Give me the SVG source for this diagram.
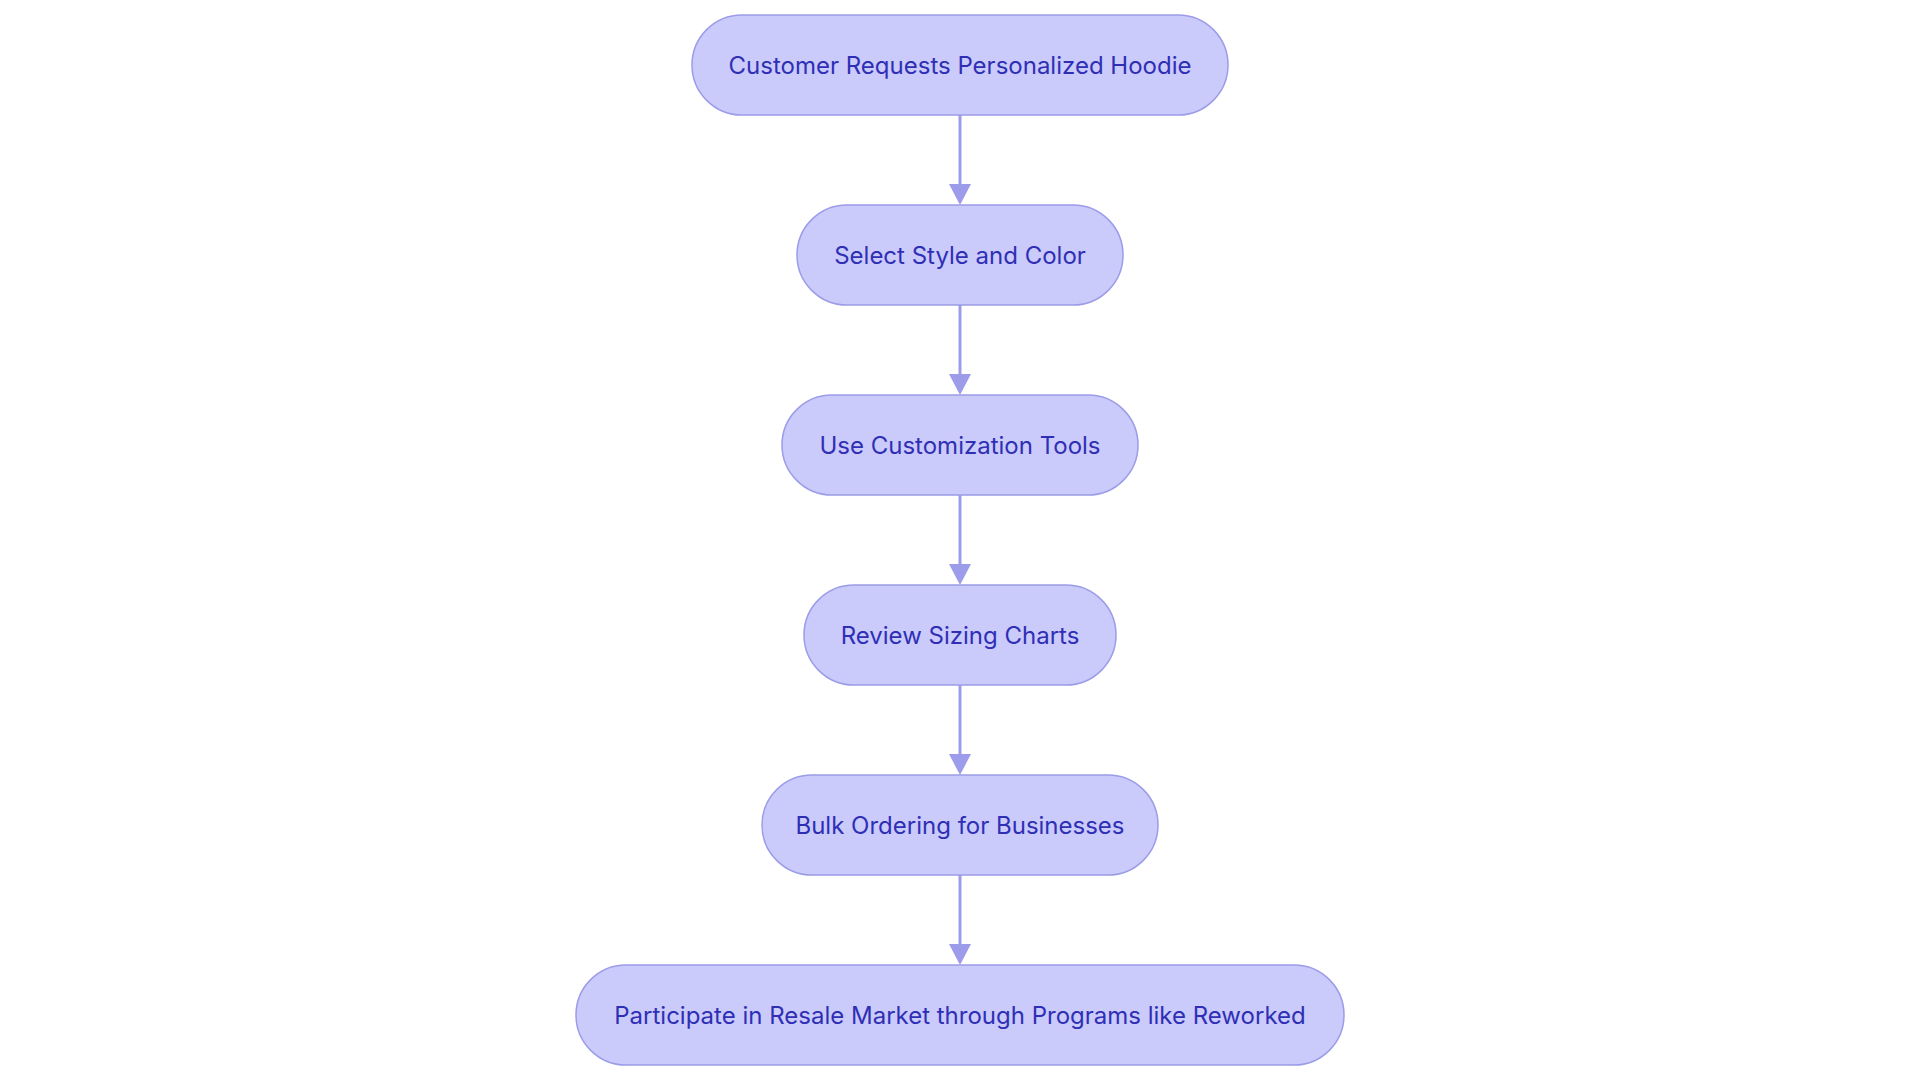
<svg xmlns="http://www.w3.org/2000/svg" width="1920" height="1080" viewBox="0 0 1920 1080">
<style>
.node rect{fill:#CACAFB;stroke:#9C9CE8;stroke-width:1.5}
.node text{font-family:Inter,"Noto Sans",sans-serif;font-size:24px;fill:#2F2FB5;text-anchor:middle;dominant-baseline:central}
.edge{stroke:#9C9CEB;stroke-width:3;fill:none}
.head{fill:#9C9CEB}
</style>
<rect width="1920" height="1080" fill="#ffffff"/>
<g id="connectors">
<line class="edge" x1="960" y1="115" x2="960" y2="186"/><polygon class="head" points="949,184 971,184 960,205"/>
<line class="edge" x1="960" y1="305" x2="960" y2="376"/><polygon class="head" points="949,374 971,374 960,395"/>
<line class="edge" x1="960" y1="495" x2="960" y2="566"/><polygon class="head" points="949,564 971,564 960,585"/>
<line class="edge" x1="960" y1="685" x2="960" y2="756"/><polygon class="head" points="949,754 971,754 960,775"/>
<line class="edge" x1="960" y1="875" x2="960" y2="946"/><polygon class="head" points="949,944 971,944 960,965"/>
</g>
<g id="n1" class="node"><rect x="692" y="15" width="536" height="100" rx="50"/><text x="960" y="65">Customer Requests Personalized Hoodie</text></g>
<g id="n2" class="node"><rect x="797" y="205" width="326" height="100" rx="50"/><text x="960" y="255">Select Style and Color</text></g>
<g id="n3" class="node"><rect x="782" y="395" width="356" height="100" rx="50"/><text x="960" y="445">Use Customization Tools</text></g>
<g id="n4" class="node"><rect x="804" y="585" width="312" height="100" rx="50"/><text x="960" y="635">Review Sizing Charts</text></g>
<g id="n5" class="node"><rect x="762" y="775" width="396" height="100" rx="50"/><text x="960" y="825">Bulk Ordering for Businesses</text></g>
<g id="n6" class="node"><rect x="576" y="965" width="768" height="100" rx="50"/><text x="960" y="1015">Participate in Resale Market through Programs like Reworked</text></g>
</svg>
